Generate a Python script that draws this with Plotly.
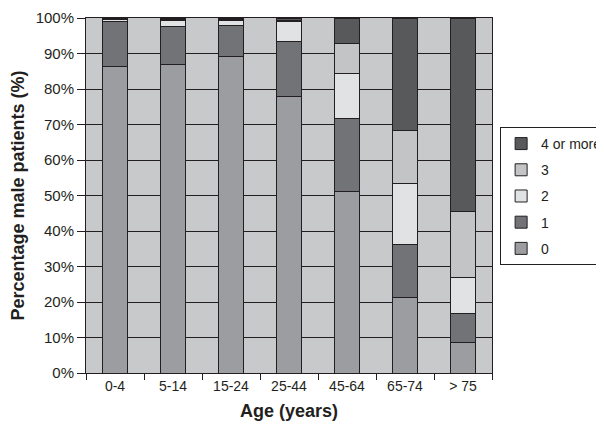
import plotly.graph_objects as go

categories = ["0-4", "5-14", "15-24", "25-44", "45-64", "65-74", "> 75"]
series_names = ["0", "1", "2", "3", "4 or more"]
v0 = [86.2, 87.0, 89.2, 77.8, 51.1, 21.2, 8.6]
v1 = [12.8, 10.7, 8.8, 15.6, 20.7, 15.1, 8.2]
v2 = [0.6, 1.5, 1.2, 5.5, 12.5, 17.1, 10.0]
v3 = [0.2, 0.3, 0.3, 0.3, 8.5, 15.0, 18.7]
v4 = [0.2, 0.5, 0.5, 0.8, 7.2, 31.6, 54.5]
y_ticks = [0, 10, 20, 30, 40, 50, 60, 70, 80, 90, 100]
y_tick_labels = ["0%", "10%", "20%", "30%", "40%", "50%", "60%", "70%", "80%", "90%", "100%"]

colors = ["#9c9da0", "#727376", "#e1e2e4", "#c3c4c6", "#58595b"]
values = [v0, v1, v2, v3, v4]

fig = go.Figure()
n = len(series_names)
for i, (name, vals, col) in enumerate(zip(series_names, values, colors)):
    fig.add_trace(go.Bar(
        x=categories, y=vals, name=name, legendgroup=name,
        legendrank=n - i,
        marker=dict(color=col, line=dict(color="#231f20", width=1)),
        width=0.43,
    ))

axis_font = dict(family="Liberation Sans, Arial, sans-serif", size=14, color="#231f20")
ytick_font = dict(family="Liberation Sans, Arial, sans-serif", size=15, color="#231f20")
title_font = dict(family="Liberation Sans, Arial, sans-serif", size=18, color="#231f20")

fig.update_layout(
    width=596, height=423,
    margin=dict(l=78, r=112, t=10, b=58, autoexpand=False),
    barmode="stack",
    paper_bgcolor="white",
    plot_bgcolor="#c8c9cb",
    font=axis_font,
    legend=dict(
        x=1.02, y=0.693, xanchor="left", yanchor="top",
        bgcolor="white", bordercolor="#231f20", borderwidth=1,
        traceorder="grouped", tracegroupgap=5,
        font=dict(family="Liberation Sans, Arial, sans-serif", size=14, color="#231f20"),
        itemwidth=30,
    ),
    xaxis=dict(
        title=dict(text="<b>Age (years)</b>", font=title_font, standoff=11),
        showline=True, linecolor="#231f20", linewidth=1, mirror=True,
        ticks="outside", ticklen=6, tickcolor="#231f20", tickson="boundaries",
        showgrid=False, tickfont=axis_font, automargin=False,
    ),
    yaxis=dict(
        title=dict(text="<b>Percentage male patients (%)</b>", font=title_font, standoff=18),
        range=[0, 100], tickmode="array", tickvals=y_ticks, ticktext=y_tick_labels,
        showline=True, linecolor="#231f20", linewidth=1, mirror=True,
        ticks="outside", ticklen=8, tickcolor="#231f20",
        showgrid=True, gridcolor="#231f20", gridwidth=1,
        zeroline=False, tickfont=ytick_font, automargin=False,
    ),
)

fig.write_html("out.html")
